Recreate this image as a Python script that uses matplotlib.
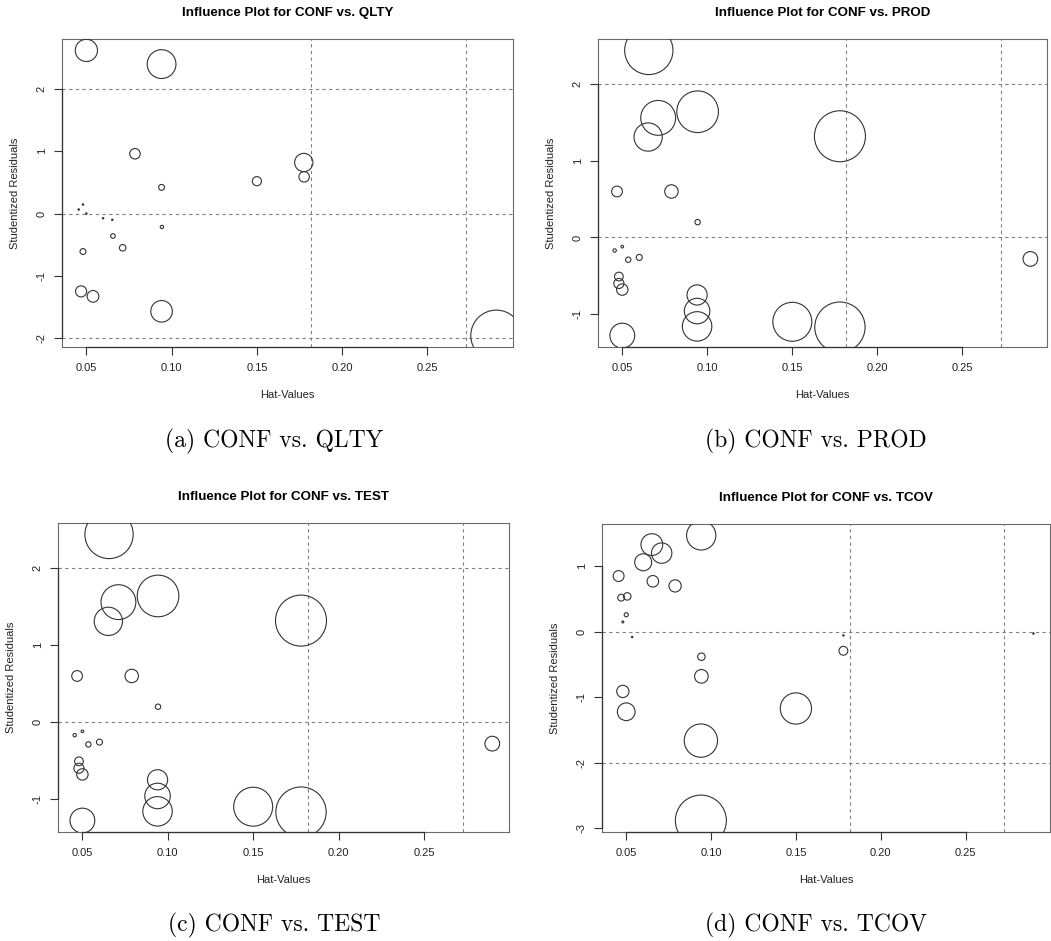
import numpy as np
import matplotlib
matplotlib.use('Agg')
import matplotlib.pyplot as plt

plt.rcParams['font.family'] = ['Liberation Sans', 'DejaVu Sans']
plt.rcParams['axes.unicode_minus'] = False

# influence measures for each single-predictor model of CONF
qlty_hat = [0.050, 0.0941, 0.0785, 0.1775, 0.1777, 0.150, 0.0941, 0.048, 0.0455, 0.050,
            0.0598, 0.0652, 0.0943, 0.0656, 0.0713, 0.048, 0.0469, 0.0539, 0.0941, 0.2904]
qlty_rstud = [2.62, 2.40, 0.96, 0.82, 0.59, 0.52, 0.42, 0.145, 0.065, 0.0,
              -0.075, -0.10, -0.215, -0.36, -0.55, -0.61, -1.25, -1.33, -1.57, -1.96]
qlty_cook = [0.133, 0.223, 0.0295, 0.090, 0.0295, 0.0225, 0.0093, 0.0005, 0.0003, 0.0001,
             0.0003, 0.0003, 0.0029, 0.0056, 0.0115, 0.0093, 0.033, 0.037, 0.125, 0.70]

prod_hat = [0.0656, 0.0943, 0.0711, 0.0652, 0.178, 0.0469, 0.0789, 0.0943, 0.0455, 0.050, 0.0535,
            0.060, 0.048, 0.048, 0.050, 0.094, 0.094, 0.094, 0.050, 0.150, 0.178, 0.290]
prod_rstud = [2.44, 1.64, 1.56, 1.31, 1.32, 0.60, 0.60, 0.20, -0.17, -0.12, -0.29,
              -0.26, -0.51, -0.60, -0.68, -0.75, -0.96, -1.16, -1.28, -1.10, -1.17, -0.28]
prod_cook = [0.269, 0.200, 0.140, 0.092, 0.300, 0.0133, 0.0208, 0.0033, 0.0013, 0.0008, 0.0033,
             0.0042, 0.0088, 0.0117, 0.015, 0.047, 0.075, 0.100, 0.071, 0.175, 0.292, 0.025]

test_hat = list(prod_hat)
test_rstud = list(prod_rstud)
test_cook = list(prod_cook)

tcov_hat = [0.0942, 0.0651, 0.0709, 0.060, 0.0455, 0.0657, 0.0788, 0.047, 0.0506, 0.050, 0.048,
            0.0535, 0.178, 0.178, 0.290, 0.0943, 0.0943, 0.048, 0.050, 0.150, 0.094, 0.094]
tcov_rstud = [1.47, 1.33, 1.20, 1.06, 0.85, 0.77, 0.70, 0.52, 0.54, 0.26, 0.15,
              -0.08, -0.056, -0.29, -0.026, -0.38, -0.68, -0.91, -1.22, -1.17, -1.66, -2.88]
tcov_cook = [0.148, 0.082, 0.072, 0.050, 0.0205, 0.023, 0.026, 0.008, 0.0097, 0.0029, 0.0007,
             0.0002, 0.0003, 0.0135, 0.0002, 0.0097, 0.032, 0.026, 0.054, 0.169, 0.192, 0.45]

n_obs, n_coef = 22, 2

W, H = 1051, 941
fig = plt.figure(figsize=(W / 100, H / 100), dpi=100)


def fx(px):
    return px / W


def fy(py):
    return 1 - py / H


panels = [
    ('QLTY', qlty_hat, qlty_rstud, qlty_cook, (62, 39, 513, 347), '(a)', 274, 441),
    ('PROD', prod_hat, prod_rstud, prod_cook, (598, 39, 1047, 347), '(b)', 816, 441),
    ('TEST', test_hat, test_rstud, test_cook, (58, 523, 509, 832), '(c)', 274, 925),
    ('TCOV', tcov_hat, tcov_rstud, tcov_cook, (602, 524, 1050, 832), '(d)', 816, 925),
]

dash = (0, (3, 3))
for name, hat, rstud, cook, box, tag, cap_x, cap_y in panels:
    left, top, right, bottom = box
    ax = fig.add_axes([fx(left), fy(bottom), fx(right - left), (bottom - top) / H])
    hat, rstud, cook = np.array(hat), np.array(rstud), np.array(cook)

    # R-style 4% padding around the data range
    xr = hat.max() - hat.min()
    yr = rstud.max() - rstud.min()
    ax.set_xlim(hat.min() - 0.04 * xr, hat.max() + 0.04 * xr)
    ax.set_ylim(rstud.min() - 0.04 * yr, rstud.max() + 0.04 * yr)

    for v in (2 * n_coef / n_obs, 3 * n_coef / n_obs):
        ax.axvline(v, ls=dash, color='#808080', lw=0.8, zorder=1)
    for h in (-2, 0, 2):
        ax.axhline(h, ls=dash, color='#808080', lw=0.8, zorder=1)

    # circle radius proportional to sqrt(Cook's D), largest = 25.5 px
    r_px = np.maximum(25.5 * np.sqrt(cook / cook.max()), 0.7)
    sizes = (2 * r_px * 0.72) ** 2
    ax.scatter(hat, rstud, s=sizes, facecolors='none', edgecolors='#333333',
               linewidths=0.8, zorder=3)

    xt = [0.05, 0.10, 0.15, 0.20, 0.25]
    lo, hi = ax.get_ylim()
    yt = [t for t in range(-3, 4) if lo <= t <= hi]
    ax.set_xticks(xt)
    ax.set_xticklabels(['%.2f' % t for t in xt])
    ax.set_yticks(yt)
    ax.set_yticklabels([str(t) for t in yt], rotation=90, va='center')
    ax.tick_params(direction='out', length=6, width=0.8, color='#333333',
                   labelsize=8, labelcolor='#222222')
    ax.tick_params(axis='x', pad=5.5)
    ax.tick_params(axis='y', pad=5)

    for sp in ax.spines.values():
        sp.set_color('#6a6a6a')
        sp.set_linewidth(0.8)
    # axis lines spanning first to last tick
    ax.plot([0, 0], [yt[0], yt[-1]], transform=ax.get_yaxis_transform(),
            color='#333333', lw=0.9, clip_on=False, zorder=4)
    ax.plot([xt[0], xt[-1]], [0, 0], transform=ax.get_xaxis_transform(),
            color='#333333', lw=0.9, clip_on=False, zorder=4)

    cx = (left + right) / 2
    fig.text(fx(cx), fy(top - 26), 'Influence Plot for CONF vs. %s' % name,
             ha='center', va='center', fontsize=9.6, fontweight='bold')
    fig.text(fx(cx), fy(bottom + 48), 'Hat-Values', ha='center', va='center',
             fontsize=8, color='#222222')
    fig.text(fx(left - 47), fy((top + bottom) / 2), 'Studentized Residuals',
             ha='center', va='center', rotation=90, fontsize=8, color='#222222')
    fig.text(fx(cap_x), fy(cap_y), '%s CONF vs. %s' % (tag, name), ha='center',
             va='center', fontsize=17, family='cmr10')

fig.savefig('out.png', dpi=100)
